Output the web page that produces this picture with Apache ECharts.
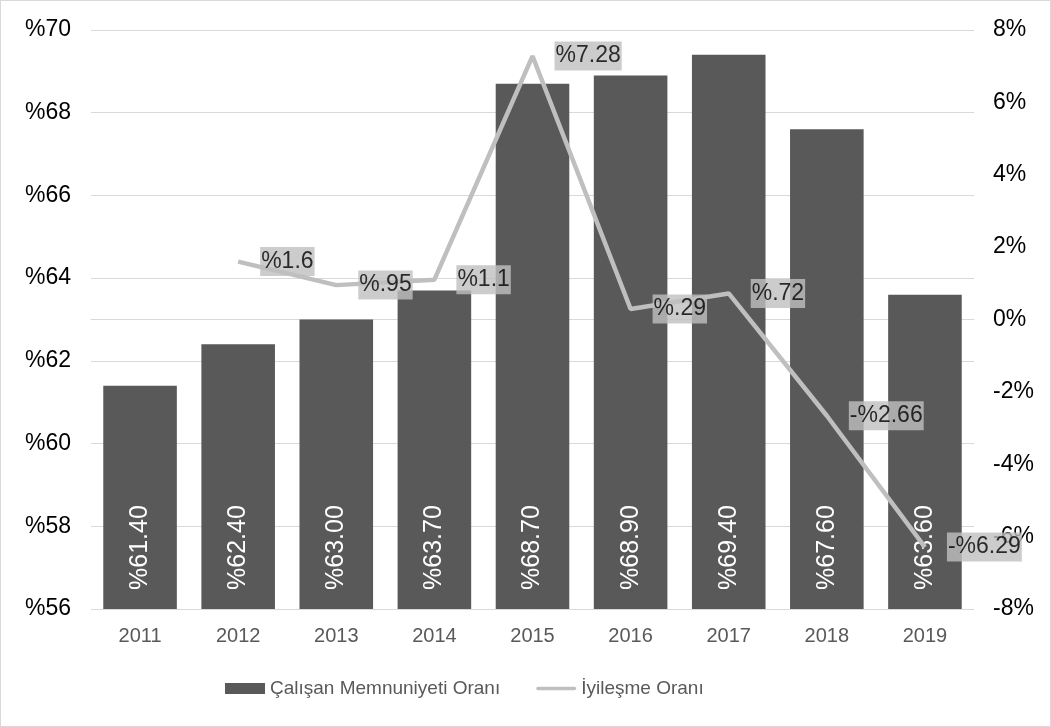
<!DOCTYPE html>
<html>
<head>
<meta charset="utf-8">
<script src="https://cdn.jsdelivr.net/npm/echarts@6/dist/echarts.min.js"></script>
<style>
  html, body { margin: 0; padding: 0; background: #fff; }
  #chart { width: 1051px; height: 727px; box-sizing: border-box; border: 1px solid #d9d9d9; }
</style>
</head>
<body>
<div id="chart"></div>
<script>
// Yıllar ve iki seri
const years = ['2011', '2012', '2013', '2014', '2015', '2016', '2017', '2018', '2019'];
const satisfaction = [61.4, 62.4, 63.0, 63.7, 68.7, 68.9, 69.4, 67.6, 63.6];
const improvement = [null, 1.6, 0.95, 1.1, 7.28, 0.29, 0.72, -2.66, -6.29];
const seriesNames = ['Çalışan Memnuniyeti Oranı', 'İyileşme Oranı'];

const FONT = '"Liberation Sans", Arial, sans-serif';

// Türkçe yüzde biçimi: "%1.6", "%.95", "-%2.66"
function trPercent(v) {
  const abs = Math.abs(v);
  let s = String(abs);
  if (abs < 1) s = s.replace(/^0/, '');
  return (v < 0 ? '-' : '') + '%' + s;
}

const chart = echarts.init(document.getElementById('chart'));
chart.setOption({
  animation: false,
  textStyle: { fontFamily: FONT },
  grid: { left: 90, right: 76, top: 29, bottom: 117 },
  legend: {
    bottom: 23,
    left: 219,
    itemWidth: 40,
    itemHeight: 11,
    itemGap: 36,
    symbolKeepAspect: true,
    textStyle: { fontSize: 19, color: '#595959', fontFamily: FONT },
    data: [
      { name: seriesNames[0], icon: 'rect' },
      { name: seriesNames[1], icon: 'path://M2,0 H42 A2,2 0 0 1 42,4 H2 A2,2 0 0 1 2,0 Z' }
    ]
  },
  xAxis: {
    type: 'category',
    data: years,
    axisLine: { lineStyle: { color: '#d9d9d9', width: 1 } },
    axisTick: { show: false },
    axisLabel: { fontSize: 20, color: '#595959', margin: 17, fontFamily: FONT }
  },
  yAxis: [
    {
      type: 'value',
      min: 56, max: 70, interval: 2,
      axisLine: { show: false },
      axisTick: { show: false },
      splitLine: { lineStyle: { color: '#d9d9d9', width: 1 } },
      axisLabel: { fontSize: 23, color: '#000', margin: 20, fontFamily: FONT,
        formatter: v => '%' + v }
    },
    {
      type: 'value',
      min: -8, max: 8, interval: 2,
      axisLine: { show: false },
      axisTick: { show: false },
      splitLine: { show: false },
      axisLabel: { fontSize: 23, color: '#000', margin: 19, fontFamily: FONT,
        formatter: v => v + '%' }
    }
  ],
  series: [
    {
      name: seriesNames[0],
      type: 'bar',
      data: satisfaction,
      barWidth: '75%',
      itemStyle: { color: '#595959' },
      label: {
        show: true,
        position: 'insideBottom',
        rotate: 90,
        align: 'left',
        verticalAlign: 'middle',
        distance: 19,
        color: '#fff',
        fontSize: 25,
        fontFamily: FONT,
        formatter: p => '%' + p.value.toFixed(2)
      },
      z: 2
    },
    {
      name: seriesNames[1],
      type: 'line',
      yAxisIndex: 1,
      data: improvement,
      symbol: 'none',
      lineStyle: { color: '#bfbfbf', width: 4.5 },
      itemStyle: { color: '#bfbfbf' },
      z: 3
    },
    {
      // değer etiketleri, çizginin noktalarına bağlı
      type: 'scatter',
      yAxisIndex: 1,
      data: improvement,
      symbolSize: 0,
      silent: true,
      label: {
        show: true,
        position: 'right',
        distance: 22,
        color: '#000',
        fontSize: 23,
        fontFamily: FONT,
        backgroundColor: '#bfbfbf',
        padding: [4, 1, 2, 1],
        formatter: p => trPercent(p.value)
      },
      z: 4
    }
  ]
});
</script>
</body>
</html>
